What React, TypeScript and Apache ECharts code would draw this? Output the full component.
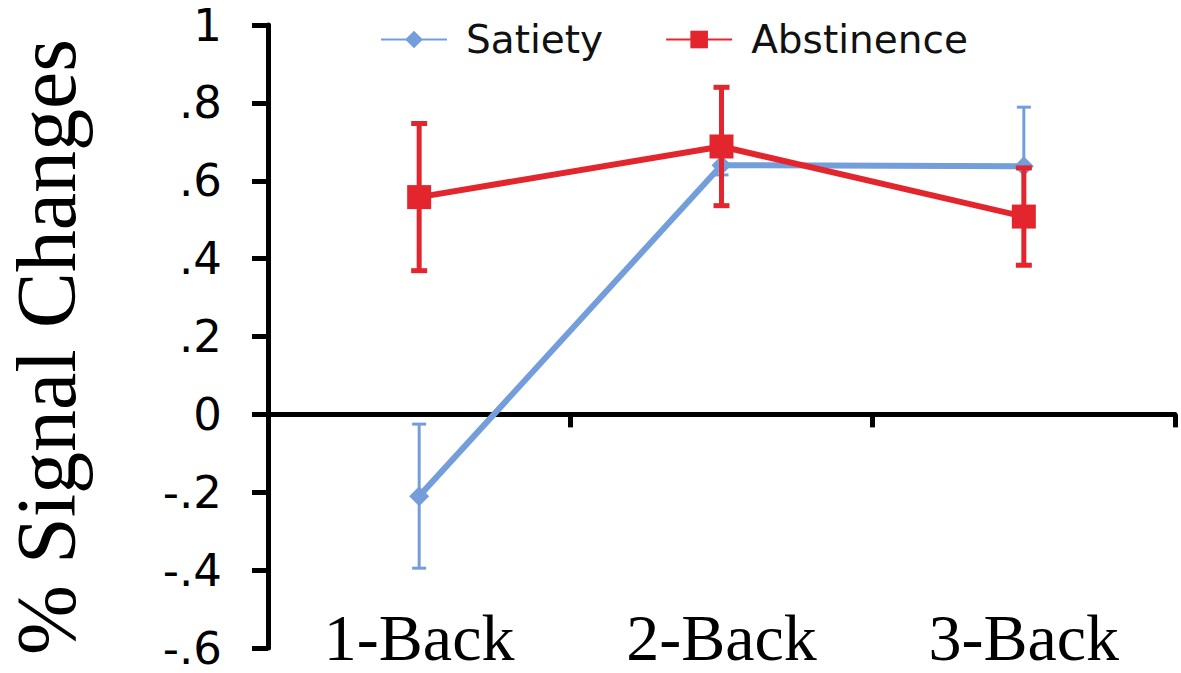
import React, { useEffect, useRef } from "react";
import * as echarts from "echarts";

const categories = ["1-Back", "2-Back", "3-Back"];
const satiety = [-0.21, 0.64, 0.637];
const satietyErr = [0.185, 0.025, 0.152];
const abstinence = [0.558, 0.688, 0.508];
const abstinenceErr = [0.189, 0.152, 0.125];
const yTicks = [-0.6, -0.4, -0.2, 0, 0.2, 0.4, 0.6, 0.8, 1];

const BLUE = "#739edb";
const RED = "#e3262e";

function fmt(v: number): string {
  const r = Math.round(v * 10) / 10;
  if (r === 0) return "0";
  if (r === 1) return "1";
  const s = Math.abs(r).toFixed(1).replace(/^0/, "");
  return (r < 0 ? "-" : "") + s;
}

function errSeries(name: string, vals: number[], errs: number[], color: string, lw: number, cap: number, z: number) {
  return {
    type: "custom",
    name,
    z,
    data: vals.map((v, i) => [i, v, errs[i]]),
    encode: { x: 0, y: 1 },
    renderItem: (params: any, api: any) => {
      const i = api.value(0);
      const v = api.value(1);
      const e = api.value(2);
      const top = api.coord([i, v + e]);
      const bot = api.coord([i, v - e]);
      const st = { stroke: color, lineWidth: lw };
      return {
        type: "group",
        children: [
          { type: "line", shape: { x1: top[0], y1: top[1], x2: bot[0], y2: bot[1] }, style: st },
          { type: "line", shape: { x1: top[0] - cap / 2, y1: top[1], x2: top[0] + cap / 2, y2: top[1] }, style: st },
          { type: "line", shape: { x1: bot[0] - cap / 2, y1: bot[1], x2: bot[0] + cap / 2, y2: bot[1] }, style: st },
        ],
      };
    },
  };
}

export default function App() {
  const ref = useRef<HTMLDivElement>(null);
  useEffect(() => {
    document.body.style.margin = "0";
    const chart = echarts.init(ref.current!, undefined, { renderer: "svg" });
    chart.setOption({
      animation: false,
      backgroundColor: "#ffffff",
      grid: { left: 268, right: 6, top: 25, bottom: 25, containLabel: false, outerBoundsMode: "none" },
      legend: {
        data: ["Satiety", "Abstinence"],
        left: 380,
        top: 20,
        padding: 0,
        itemWidth: 66,
        itemHeight: 22,
        itemGap: 62,
        textStyle: { fontSize: 39, fontFamily: "DejaVu Sans", color: "#111", padding: [0, 0, 0, 14] },
      },
      xAxis: [
        {
          type: "category",
          data: categories,
          boundaryGap: true,
          axisLine: { onZero: true, lineStyle: { color: "#000", width: 5 } },
          axisTick: { show: true, inside: false, length: 13, lineStyle: { color: "#000", width: 5 } },
          axisLabel: { show: false },
          splitLine: { show: false },
        },
        {
          type: "category",
          data: categories,
          position: "bottom",
          boundaryGap: true,
          axisLine: { show: false, onZero: false },
          axisTick: { show: false },
          axisLabel: {
            margin: -11,
            verticalAlign: "middle",
            fontSize: 66,
            lineHeight: 60,
            fontFamily: "Liberation Serif",
            color: "#000",
          },
          splitLine: { show: false },
        },
      ],
      yAxis: {
        type: "value",
        min: -0.6,
        max: 1,
        interval: 0.2,
        axisLine: { show: true, lineStyle: { color: "#000", width: 5 } },
        axisTick: { show: true, inside: false, length: 16, lineStyle: { color: "#000", width: 5 } },
        axisLabel: {
          margin: 46,
          fontSize: 45,
          fontFamily: "DejaVu Sans",
          color: "#000",
          formatter: (v: number) => fmt(v),
          customValues: yTicks,
        },
        splitLine: { show: false },
      },
      graphic: [
        {
          type: "text",
          x: 46,
          y: 347,
          rotation: Math.PI / 2,
          style: {
            text: "% Signal Changes",
            fontSize: 84,
            fontFamily: "Liberation Serif",
            fill: "#000",
            align: "center",
            verticalAlign: "middle",
          },
        },
      ],
      series: [
        errSeries("satErr", satiety, satietyErr, BLUE, 3, 14, 1),
        {
          type: "line",
          name: "Satiety",
          z: 2,
          data: satiety,
          symbol: "diamond",
          symbolSize: 20,
          itemStyle: { color: BLUE },
          lineStyle: { color: BLUE, width: 6 },
        },
        errSeries("absErr", abstinence, abstinenceErr, RED, 5, 16, 3),
        {
          type: "line",
          name: "Abstinence",
          z: 4,
          data: abstinence,
          symbol: "rect",
          symbolSize: 24,
          itemStyle: { color: RED },
          lineStyle: { color: RED, width: 6 },
        },
      ],
    });
    return () => chart.dispose();
  }, []);
  return <div ref={ref} style={{ position: "fixed", left: 0, top: 0, width: 1181, height: 673 }} />;
}
